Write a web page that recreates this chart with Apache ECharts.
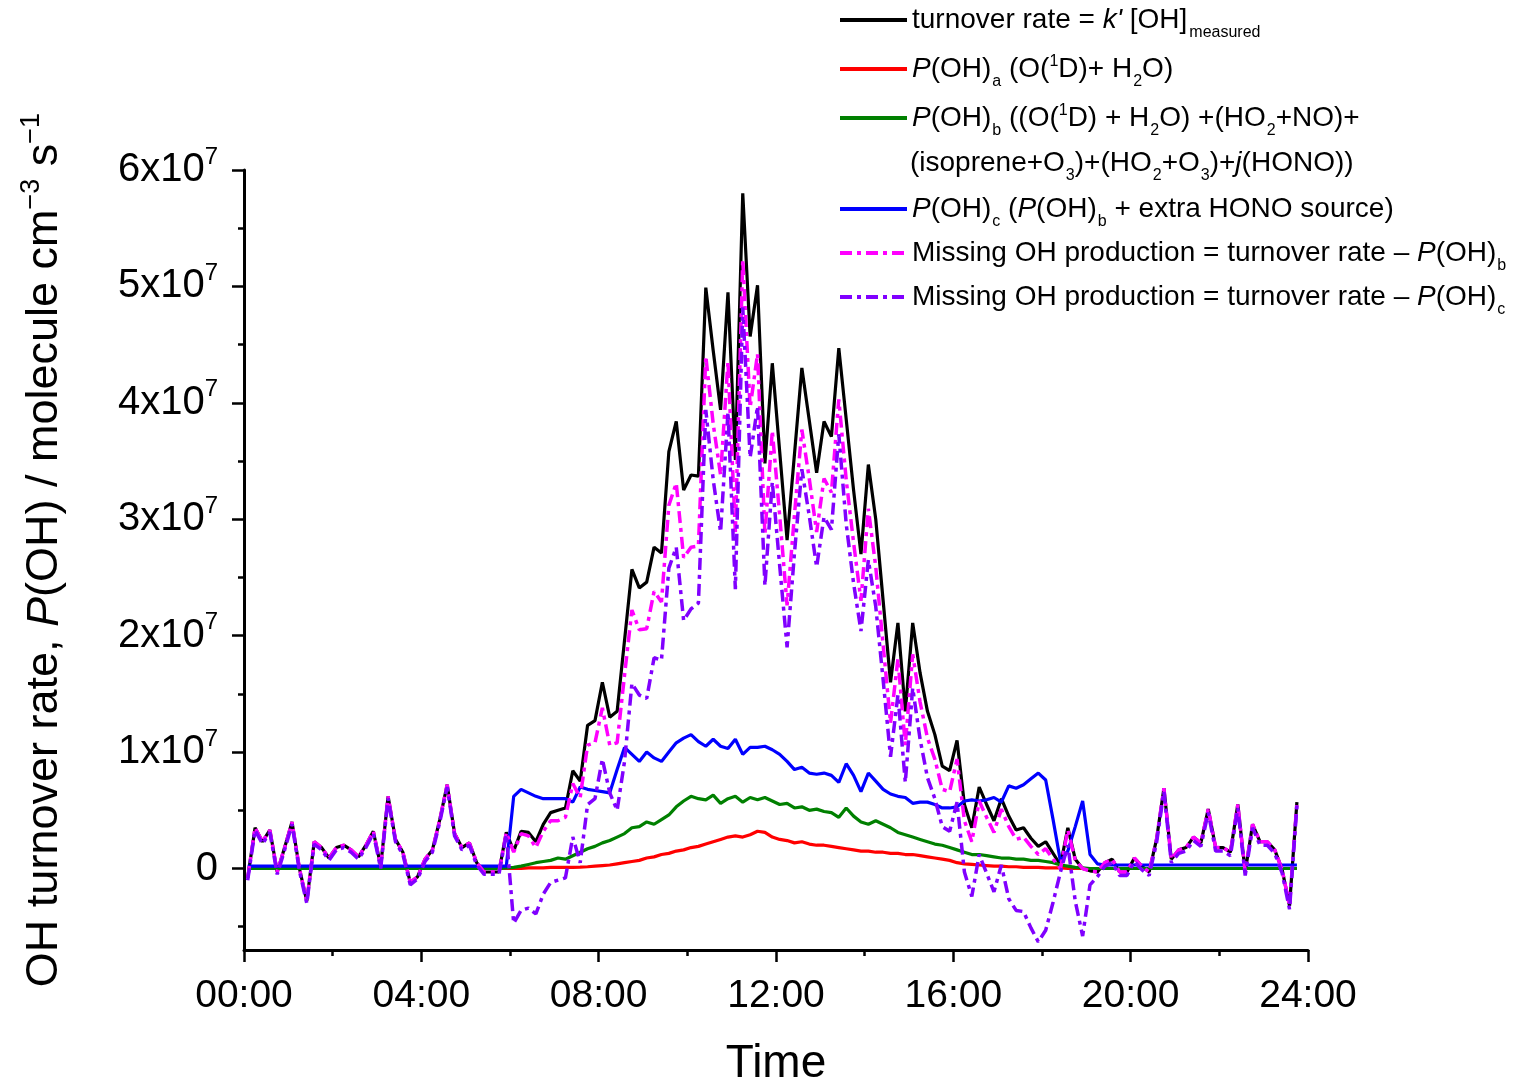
<!DOCTYPE html>
<html>
<head>
<meta charset="utf-8">
<script src="https://cdn.jsdelivr.net/npm/echarts@6/dist/echarts.min.js"></script>
<style>
html,body{margin:0;padding:0;background:#ffffff;}
#chart{width:1517px;height:1083px;}
</style>
</head>
<body>
<div id="chart"></div>
<script>
// ---- sampling grid (minutes after midnight) ----
const startMinute = 5;
const stepMinute = 10;

// ---- x-axis tick labels (hours) ----
const xTickHours = [0, 4, 8, 12, 16, 20, 24];

// ---- series values, in units of 1e7 molecule cm-3 s-1 ----
const turnoverRate = [
 -0.08,0.35,0.23,0.33,-0.03,0.18,0.40,0.00,-0.28,0.23,
 0.18,0.09,0.18,0.20,0.16,0.10,0.20,0.32,0.02,0.62,
 0.25,0.14,-0.12,-0.07,0.08,0.16,0.42,0.72,0.30,0.18,
 0.22,0.05,-0.03,-0.03,-0.03,0.31,0.15,0.32,0.31,0.23,
 0.38,0.48,0.50,0.52,0.84,0.75,1.23,1.27,1.60,1.30,
 1.35,1.96,2.57,2.41,2.46,2.76,2.71,3.58,3.84,3.25,
 3.38,3.37,4.99,4.45,3.94,4.95,3.51,5.80,4.57,5.01,
 3.48,4.34,3.58,2.82,3.56,4.30,3.85,3.40,3.84,3.71,
 4.47,3.86,3.25,2.70,3.47,3.00,2.30,1.60,2.11,1.35,
 2.11,1.68,1.35,1.15,0.88,0.84,1.10,0.55,0.35,0.70,
 0.55,0.41,0.60,0.45,0.33,0.35,0.26,0.19,0.23,0.13,
 0.03,0.35,0.08,0.00,-0.02,-0.03,0.05,0.08,-0.03,-0.03,
 0.09,0.02,-0.03,0.25,0.69,0.08,0.16,0.18,0.27,0.22,
 0.51,0.18,0.18,0.14,0.55,-0.03,0.38,0.23,0.23,0.16,
 -0.01,-0.32,0.57
];

const pohA = [
 0,0,0,0,0,0,0,0,0,0,
 0,0,0,0,0,0,0,0,0,0,
 0,0,0,0,0,0,0,0,0,0,
 0,0,0,0,0,0,0,0,0.005,0.005,
 0.005,0.01,0.01,0.01,0.01,0.012,0.015,0.02,0.025,0.03,
 0.04,0.05,0.06,0.07,0.09,0.10,0.12,0.13,0.15,0.16,
 0.18,0.19,0.21,0.23,0.25,0.27,0.28,0.27,0.29,0.32,
 0.31,0.27,0.25,0.24,0.22,0.23,0.21,0.20,0.20,0.19,
 0.18,0.17,0.16,0.15,0.15,0.14,0.14,0.13,0.13,0.12,
 0.12,0.11,0.10,0.09,0.08,0.07,0.05,0.04,0.035,0.03,
 0.025,0.02,0.02,0.015,0.015,0.01,0.01,0.01,0.005,0.005,
 0.005,0,0,0,0,0,0,0,0,0,
 0,0,0,0,0,0,0,0,0,0,
 0,0,0,0,0,0,0,0,0,0,
 0,0,0
];

const pohB = [
 0,0,0,0,0,0,0,0,0,0,
 0,0,0,0,0,0,0,0,0,0,
 0,0,0,0,0,0,0,0,0,0,
 0,0,0,0,0,0.005,0.01,0.02,0.035,0.05,
 0.06,0.07,0.09,0.08,0.11,0.14,0.17,0.19,0.22,0.24,
 0.27,0.30,0.35,0.36,0.40,0.38,0.42,0.46,0.53,0.58,
 0.62,0.60,0.59,0.63,0.56,0.60,0.62,0.57,0.61,0.59,
 0.61,0.58,0.55,0.56,0.52,0.53,0.50,0.51,0.49,0.48,
 0.44,0.52,0.45,0.40,0.38,0.41,0.38,0.35,0.31,0.29,
 0.27,0.25,0.23,0.21,0.20,0.18,0.16,0.14,0.12,0.12,
 0.11,0.10,0.09,0.09,0.08,0.08,0.07,0.07,0.06,0.05,
 0.03,0.02,0.01,0.005,0,0,0,0,0,0,
 0,0,0,0,0,0,0,0,0,0,
 0,0,0,0,0,0,0,0,0,0,
 0,0,0
];

const pohC = [
 0.02,0.02,0.02,0.02,0.02,0.02,0.02,0.02,0.02,0.02,
 0.02,0.02,0.02,0.02,0.02,0.02,0.02,0.02,0.02,0.02,
 0.02,0.02,0.02,0.02,0.02,0.02,0.02,0.02,0.02,0.02,
 0.02,0.02,0.02,0.02,0.02,0.02,0.62,0.68,0.65,0.62,
 0.60,0.60,0.60,0.60,0.57,0.70,0.68,0.67,0.66,0.65,
 0.85,1.04,0.98,0.92,1.00,0.95,0.92,1.00,1.08,1.12,
 1.15,1.09,1.05,1.11,1.05,1.03,1.11,0.98,1.04,1.04,
 1.05,1.02,0.98,0.92,0.85,0.87,0.82,0.81,0.82,0.80,
 0.74,0.90,0.80,0.66,0.82,0.75,0.68,0.64,0.62,0.61,
 0.56,0.57,0.57,0.55,0.52,0.52,0.53,0.58,0.59,0.58,
 0.59,0.61,0.57,0.71,0.69,0.72,0.77,0.82,0.76,0.42,
 0.06,0.15,0.36,0.58,0.12,0.04,0.03,0.03,0.03,0.03,
 0.03,0.03,0.03,0.03,0.03,0.03,0.03,0.03,0.03,0.03,
 0.03,0.03,0.03,0.03,0.03,0.03,0.03,0.03,0.03,0.03,
 0.03,0.03,0.03
];

const missingB = [
 -0.08,0.35,0.23,0.33,-0.03,0.18,0.40,0.00,-0.28,0.23,
 0.18,0.09,0.18,0.20,0.16,0.10,0.20,0.32,0.02,0.62,
 0.25,0.14,-0.12,-0.07,0.08,0.16,0.42,0.72,0.30,0.18,
 0.22,0.05,-0.03,-0.03,-0.03,0.31,0.14,0.30,0.28,0.18,
 0.32,0.41,0.41,0.44,0.73,0.61,1.06,1.08,1.38,1.06,
 1.08,1.66,2.22,2.05,2.06,2.38,2.29,3.12,3.31,2.67,
 2.76,2.77,4.40,3.82,3.38,4.35,2.89,5.23,3.96,4.42,
 2.87,3.76,3.03,2.26,3.04,3.77,3.35,2.89,3.35,3.23,
 4.03,3.34,2.80,2.30,3.09,2.59,1.92,1.25,1.80,1.06,
 1.84,1.43,1.12,0.94,0.68,0.66,0.94,0.41,0.23,0.58,
 0.44,0.31,0.51,0.36,0.25,0.27,0.19,0.12,0.17,0.08,
 0.00,0.33,0.07,0.00,-0.02,-0.03,0.05,0.08,-0.03,-0.03,
 0.09,0.02,-0.03,0.25,0.69,0.08,0.16,0.18,0.27,0.22,
 0.51,0.18,0.18,0.14,0.55,-0.03,0.38,0.23,0.23,0.16,
 -0.01,-0.32,0.57
];

const missingC = [
 -0.10,0.33,0.21,0.31,-0.05,0.16,0.38,-0.02,-0.30,0.21,
 0.16,0.07,0.16,0.18,0.14,0.08,0.18,0.30,0.00,0.60,
 0.23,0.12,-0.14,-0.09,0.06,0.14,0.40,0.70,0.28,0.16,
 0.20,0.03,-0.05,-0.05,-0.05,0.29,-0.47,-0.36,-0.34,-0.39,
 -0.22,-0.12,-0.10,-0.08,0.27,0.05,0.55,0.60,0.94,0.65,
 0.50,0.92,1.59,1.49,1.46,1.81,1.79,2.58,2.76,2.13,
 2.23,2.28,3.94,3.34,2.89,3.92,2.40,4.82,3.53,3.97,
 2.43,3.32,2.60,1.90,2.71,3.43,3.03,2.59,3.02,2.91,
 3.73,2.96,2.45,2.04,2.65,2.25,1.62,0.96,1.49,0.74,
 1.55,1.11,0.78,0.60,0.36,0.32,0.57,-0.03,-0.24,0.12,
 -0.04,-0.20,0.03,-0.26,-0.36,-0.37,-0.51,-0.63,-0.53,-0.29,
 -0.03,0.20,-0.28,-0.58,-0.14,-0.07,0.02,0.05,-0.06,-0.06,
 0.06,-0.01,-0.06,0.22,0.66,0.05,0.13,0.15,0.24,0.19,
 0.48,0.15,0.15,0.11,0.52,-0.06,0.35,0.20,0.20,0.13,
 -0.04,-0.35,0.54
];

// ---- y-axis ticks (units of 1e7) ----
const yMajorTicks = [0, 1, 2, 3, 4, 5, 6];
const yMinorTicks = [-0.5, 0.5, 1.5, 2.5, 3.5, 4.5, 5.5];
const yMin = -0.7, yMax = 6;

const UNIT = 1e7;
const toPairs = arr => arr.map((v, i) => [startMinute + i * stepMinute, v * UNIT]);

const FR = '"Liberation Sans",Arial,Helvetica,sans-serif';

const seriesNames = ['turnover', 'pohA', 'pohB', 'pohC', 'missB', 'missC'];
const seriesData = [turnoverRate, pohA, pohB, pohC, missingB, missingC];
const seriesColors = ['#000000', '#ff0000', '#008000', '#0000ff', '#ff00ff', '#8000ff'];
const dashDot = [12, 5, 4, 5];
const seriesDash = ['solid', 'solid', 'solid', 'solid', dashDot, dashDot];
const seriesWidth = [3.2, 3.2, 3.2, 3.2, 3.5, 3.5];

const legendTexts = [
  "turnover rate = {i|k'} [OH]{ms|measured}",
  "{i|P}(OH){sub|a} (O({sup|1}D)+ H{sub|2}O)",
  "{i|P}(OH){sub|b} ((O({sup|1}D) + H{sub|2}O) +(HO{sub|2}+NO)+",
  "{i|P}(OH){sub|c} ({i|P}(OH){sub|b} + extra HONO source)",
  "Missing OH production = turnover rate \u2013 {i|P}(OH){sub|b}",
  "Missing OH production = turnover rate \u2013 {i|P}(OH){sub|c}"
];
const legendCont = "(isoprene+O{sub|3})+(HO{sub|2}+O{sub|3})+{i|j}(HONO))";
const legendRowY = [20, 69, 118, 209, 253, 297];
const legendContY = 163;

const LFS = 28, LLH = 44;
const legendRich = {
  i: {fontStyle: 'italic', fontSize: LFS, lineHeight: LLH, fontFamily: FR, color: '#000'},
  sub: {fontSize: 16, lineHeight: 16, verticalAlign: 'top', padding: [27, 0, 0, 1], fontFamily: FR, color: '#000'},
  sup: {fontSize: 16, lineHeight: 16, verticalAlign: 'top', padding: [7, 0, 0, 0], fontFamily: FR, color: '#000'},
  ms: {fontSize: 16, lineHeight: 16, verticalAlign: 'top', padding: [27, 0, 0, 2], fontFamily: FR, color: '#000'}
};

const chart = echarts.init(document.getElementById('chart'), null, {renderer: 'canvas'});

const option = {
  backgroundColor: '#ffffff',
  animation: false,
  grid: {left: 244, right: 209, top: 170, bottom: 133, outerBoundsMode: 'none', containLabel: false},
  xAxis: {
    type: 'value',
    min: xTickHours[0] * 60,
    max: xTickHours[xTickHours.length - 1] * 60,
    interval: 240,
    name: 'Time',
    nameLocation: 'middle',
    nameGap: 91,
    nameTextStyle: {fontFamily: FR, fontSize: 46, color: '#000'},
    axisLine: {show: true, onZero: false, lineStyle: {color: '#000', width: 3}},
    axisTick: {show: true, length: 12, lineStyle: {color: '#000', width: 2.5}},
    minorTick: {show: true, splitNumber: 2, length: 6, lineStyle: {color: '#000', width: 2.5}},
    splitLine: {show: false},
    minorSplitLine: {show: false},
    axisLabel: {
      margin: 27,
      fontFamily: FR, fontSize: 39, color: '#000',
      formatter: v => String(Math.round(v / 60)).padStart(2, '0') + ':00'
    }
  },
  yAxis: [
    {
      type: 'value',
      min: yMin * UNIT,
      max: yMax * UNIT,
      position: 'left',
      name: '{t|OH turnover rate, }{it|P}{t|(OH) / molecule cm}{sp|\u22123}{t| s}{sp|\u22121}',
      nameLocation: 'middle',
      nameGap: 172,
      nameTextStyle: {
        padding: [0, 0, 0, 20],
        rich: {
          t: {fontFamily: FR, fontSize: 45, lineHeight: 54, color: '#000'},
          it: {fontFamily: FR, fontSize: 45, lineHeight: 54, fontStyle: 'italic', color: '#000'},
          sp: {fontFamily: FR, fontSize: 27, lineHeight: 27, verticalAlign: 'top', color: '#000'}
        }
      },
      axisLine: {show: true, onZero: false, lineStyle: {color: '#000', width: 3}},
      axisTick: {show: true, length: 12, customValues: yMajorTicks.map(v => v * UNIT), lineStyle: {color: '#000', width: 2.5}},
      splitLine: {show: false},
      axisLabel: {
        margin: 26,
        customValues: yMajorTicks.map(v => v * UNIT),
        formatter: v => {
          const n = Math.round(v / UNIT);
          return n === 0 ? '{b|0}' : '{b|' + n + 'x10}{s|7}';
        },
        rich: {
          b: {fontFamily: FR, fontSize: 40, lineHeight: 50, color: '#000'},
          s: {fontFamily: FR, fontSize: 24, lineHeight: 24, verticalAlign: 'top', color: '#000'}
        }
      }
    },
    {
      type: 'value',
      min: yMin * UNIT,
      max: yMax * UNIT,
      position: 'left',
      axisLine: {show: false},
      axisLabel: {show: false},
      splitLine: {show: false},
      axisTick: {show: true, length: 6, customValues: yMinorTicks.map(v => v * UNIT), lineStyle: {color: '#000', width: 2.5}}
    }
  ],
  legend: seriesNames.map((n, k) => ({
    data: [n],
    left: 833,
    top: legendRowY[k] - LLH / 2 - 5,
    itemWidth: 67,
    itemHeight: 14,
    selectedMode: false,
    itemStyle: {opacity: 0},
    lineStyle: {width: 4},
    formatter: () => legendTexts[k],
    textStyle: {fontFamily: FR, fontSize: LFS, lineHeight: LLH, color: '#000', rich: legendRich}
  })),
  graphic: [{
    type: 'text',
    x: 910,
    y: legendContY,
    style: {
      text: legendCont,
      fontFamily: FR, fontSize: LFS, lineHeight: LLH, fill: '#000',
      verticalAlign: 'middle', align: 'left',
      rich: legendRich
    }
  }],
  series: seriesNames.map((n, k) => ({
    name: n,
    type: 'line',
    yAxisIndex: 0,
    data: toPairs(seriesData[k]),
    symbol: 'none',
    showSymbol: false,
    color: seriesColors[k],
    lineStyle: {color: seriesColors[k], width: seriesWidth[k], type: seriesDash[k]},
    z: 2 + k
  }))
};

chart.setOption(option);
</script>
</body>
</html>
